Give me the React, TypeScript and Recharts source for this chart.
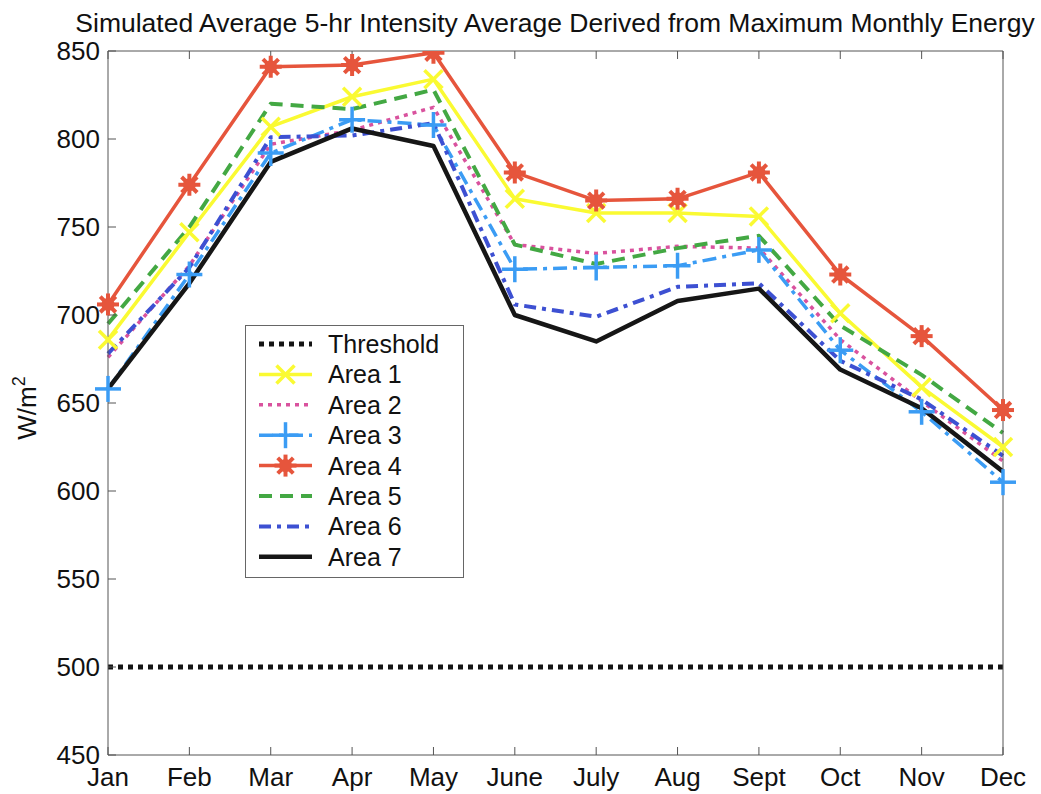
import React from 'react';
import { LineChart, Line, XAxis, YAxis } from 'recharts';

const months = ['Jan', 'Feb', 'Mar', 'Apr', 'May', 'June', 'July', 'Aug', 'Sept', 'Oct', 'Nov', 'Dec'];
const yTicks = [450, 500, 550, 600, 650, 700, 750, 800, 850];

const threshold = [500, 500, 500, 500, 500, 500, 500, 500, 500, 500, 500, 500];
const area1 = [686, 747, 807, 824, 834, 766, 758, 758, 756, 701, 659, 625];
const area2 = [676, 728, 797, 805, 818, 740, 735, 739, 738, 686, 651, 617];
const area3 = [658, 723, 792, 811, 808, 726, 727, 728, 737, 680, 645, 605];
const area4 = [706, 774, 841, 842, 849, 781, 765, 766, 781, 723, 688, 646];
const area5 = [695, 750, 820, 817, 828, 740, 729, 738, 745, 694, 666, 633];
const area6 = [678, 727, 801, 802, 809, 706, 699, 716, 718, 674, 652, 620];
const area7 = [658, 718, 787, 806, 796, 700, 685, 708, 715, 669, 647, 611];

const data = months.map((m, i) => ({
  month: m,
  threshold: threshold[i],
  area1: area1[i],
  area2: area2[i],
  area3: area3[i],
  area4: area4[i],
  area5: area5[i],
  area6: area6[i],
  area7: area7[i],
}));

const FONT = '"Liberation Sans", Arial, Helvetica, sans-serif';

const C = {
  threshold: '#141414',
  area1: '#fafa32',
  area2: '#d9529e',
  area3: '#3b9cf4',
  area4: '#e6553c',
  area5: '#43a843',
  area6: '#3d50d2',
  area7: '#161616',
};

type MarkerKind = 'x' | 'plus' | 'star' | null;

function Marker({ kind, cx, cy, color }: { kind: MarkerKind; cx: number; cy: number; color: string }) {
  if (kind === 'x') {
    const h = 9;
    return (
      <g>
        <line x1={cx - h} y1={cy - h} x2={cx + h} y2={cy + h} stroke={color} strokeWidth={3.5} />
        <line x1={cx - h} y1={cy + h} x2={cx + h} y2={cy - h} stroke={color} strokeWidth={3.5} />
      </g>
    );
  }
  if (kind === 'plus') {
    const h = 13;
    return (
      <g>
        <line x1={cx - h} y1={cy} x2={cx + h} y2={cy} stroke={color} strokeWidth={3.5} />
        <line x1={cx} y1={cy - h} x2={cx} y2={cy + h} stroke={color} strokeWidth={3.5} />
      </g>
    );
  }
  if (kind === 'star') {
    const h = 11;
    const d = h * 0.7071;
    return (
      <g>
        <line x1={cx - h} y1={cy} x2={cx + h} y2={cy} stroke={color} strokeWidth={4} />
        <line x1={cx} y1={cy - h} x2={cx} y2={cy + h} stroke={color} strokeWidth={4} />
        <line x1={cx - d} y1={cy - d} x2={cx + d} y2={cy + d} stroke={color} strokeWidth={4} />
        <line x1={cx - d} y1={cy + d} x2={cx + d} y2={cy - d} stroke={color} strokeWidth={4} />
        <circle cx={cx} cy={cy} r={6.5} fill={color} />
      </g>
    );
  }
  return null;
}

const makeDot = (kind: MarkerKind, color: string) => (props: any) => {
  const { cx, cy, index } = props;
  if (cx == null || cy == null) return <g key={`d-${index}`} />;
  return (
    <g key={`d-${kind}-${index}`}>
      <Marker kind={kind} cx={cx} cy={cy} color={color} />
    </g>
  );
};

type SeriesDef = {
  key: string;
  name: string;
  color: string;
  width: number;
  dash?: string;
  marker: MarkerKind;
};

const series: SeriesDef[] = [
  { key: 'threshold', name: 'Threshold', color: C.threshold, width: 5, dash: '5 5', marker: null },
  { key: 'area1', name: 'Area 1', color: C.area1, width: 3.5, marker: 'x' },
  { key: 'area2', name: 'Area 2', color: C.area2, width: 3.5, dash: '4 5', marker: null },
  { key: 'area3', name: 'Area 3', color: C.area3, width: 3.5, dash: '14 6 4 6', marker: 'plus' },
  { key: 'area4', name: 'Area 4', color: C.area4, width: 3.5, marker: 'star' },
  { key: 'area5', name: 'Area 5', color: C.area5, width: 4, dash: '13 8', marker: null },
  { key: 'area6', name: 'Area 6', color: C.area6, width: 4, dash: '12 6 4 6', marker: null },
  { key: 'area7', name: 'Area 7', color: C.area7, width: 4.5, marker: null },
];

const W = 1041;
const H = 794;

export default function App() {
  const axisColor = '#555';
  const tickStyle = { fontSize: 26, fill: '#111', fontFamily: FONT };
  return (
    <div style={{ position: 'absolute', left: 0, top: 0, width: W, height: H, background: '#fff', fontFamily: FONT }}>
      <LineChart width={W} height={H} data={data} margin={{ top: 0, right: 0, bottom: 0, left: 0 }}>
        <XAxis
          dataKey="month"
          height={39}
          interval={0}
          padding={{ left: 0, right: 0 }}
          tickSize={-8}
          tickMargin={21}
          tick={tickStyle}
          stroke={axisColor}
          tickLine={{ stroke: axisColor }}
        />
        <XAxis
          xAxisId="top"
          dataKey="month"
          orientation="top"
          height={51}
          interval={0}
          padding={{ left: 0, right: 0 }}
          tickSize={-8}
          tickFormatter={() => ''}
          stroke={axisColor}
          tickLine={{ stroke: axisColor }}
        />
        <YAxis
          width={108}
          domain={[450, 850]}
          ticks={yTicks}
          interval={0}
          allowDataOverflow
          tickSize={-8}
          tickMargin={16}
          tick={tickStyle}
          stroke={axisColor}
          tickLine={{ stroke: axisColor }}
        />
        <YAxis
          yAxisId="right"
          orientation="right"
          width={38}
          domain={[450, 850]}
          ticks={yTicks}
          interval={0}
          tickSize={-8}
          tickFormatter={() => ''}
          stroke={axisColor}
          tickLine={{ stroke: axisColor }}
        />
        {series.map((s) => (
          <Line
            key={s.key}
            type="linear"
            dataKey={s.key}
            name={s.name}
            stroke={s.color}
            strokeWidth={s.width}
            strokeDasharray={s.dash}
            strokeLinejoin="round"
            dot={s.marker ? makeDot(s.marker, s.color) : false}
            activeDot={false}
            isAnimationActive={false}
          />
        ))}
      </LineChart>
      <svg
        width={W}
        height={H}
        style={{ position: 'absolute', left: 0, top: 0, pointerEvents: 'none' }}
        fontFamily={FONT}
      >
        <text x={555} y={32} textAnchor="middle" fontSize={26.5} fill="#111">
          Simulated Average 5-hr Intensity Average Derived from Maximum Monthly Energy
        </text>
        <text transform="rotate(-90, 36, 408)" x={36} y={408} textAnchor="middle" fontSize={26} fill="#111">
          W/m<tspan dy={-11} fontSize={18}>2</tspan>
        </text>
        <g>
          <rect x={245.5} y={325.5} width={218} height={252} fill="#fff" stroke="#666" strokeWidth={1} />
          {series.map((s, i) => {
            const cy = 344 + i * 30.4;
            return (
              <g key={s.key}>
                <line
                  x1={259}
                  y1={cy}
                  x2={312}
                  y2={cy}
                  stroke={s.color}
                  strokeWidth={s.width}
                  strokeDasharray={s.dash}
                />
                <Marker kind={s.marker} cx={285.5} cy={cy} color={s.color} />
                <text x={328} y={cy + 9} fontSize={25} fill="#111">
                  {s.name}
                </text>
              </g>
            );
          })}
        </g>
      </svg>
    </div>
  );
}
